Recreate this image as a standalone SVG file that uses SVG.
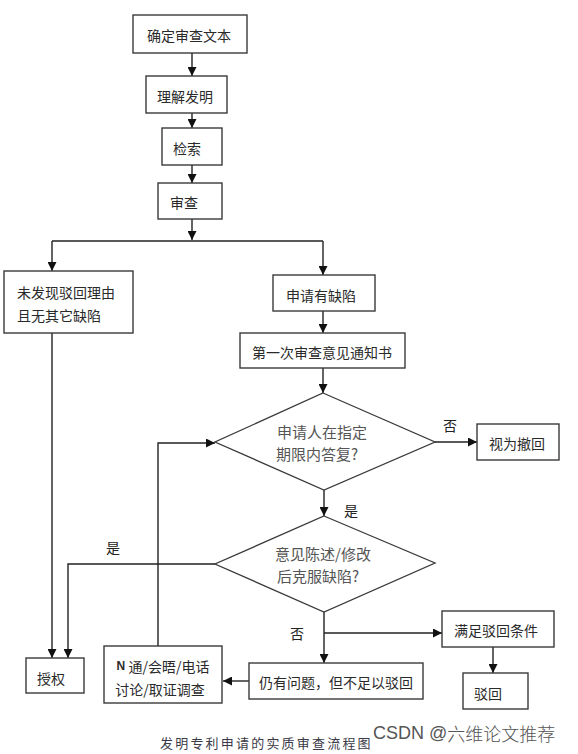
<svg xmlns="http://www.w3.org/2000/svg" width="578" height="754" viewBox="0 0 578 754">
<defs>
<marker id="arr" viewBox="0 0 10 10" refX="10" refY="5" markerWidth="9" markerHeight="9" markerUnits="userSpaceOnUse" orient="auto">
<path d="M0,0 L10,5 L0,10 z" fill="#111"/>
</marker>
<style>
.box{fill:#fff;stroke:#3a3a3a;stroke-width:1.4}
.dia{fill:#fff;stroke:#3a3a3a;stroke-width:1.3}
.t{font-family:"Noto Sans CJK SC","Noto Sans",sans-serif;font-size:14px;fill:#2a2a2a;text-anchor:middle;dominant-baseline:central}
.td{font-family:"Noto Sans CJK SC","Noto Sans",sans-serif;font-size:15px;fill:#555;text-anchor:middle;dominant-baseline:central}
.lab{font-family:"Noto Sans CJK SC",sans-serif;font-size:14px;fill:#222;text-anchor:middle;dominant-baseline:central}
.c{fill:none;stroke:#222;stroke-width:1.4}
.ca{fill:none;stroke:#222;stroke-width:1.4;marker-end:url(#arr)}
</style>
</defs>
<rect width="578" height="754" fill="#fff"/>
<g id="connectors">
<path class="ca" d="M192,53 V76"/>
<path class="ca" d="M192,113 V128"/>
<path class="ca" d="M192,165 V183"/>
<path class="ca" d="M192,219 V240"/>
<path class="c" d="M52,241 H323"/>
<path class="ca" d="M52,241 V271"/>
<path class="ca" d="M323,241 V275"/>
<path class="ca" d="M323,311 V333"/>
<path class="ca" d="M323,368 V393"/>
<path class="ca" d="M435,442 H477"/>
<path class="ca" d="M324,490 V516"/>
<path class="ca" d="M215,564 H68 V658"/>
<path class="ca" d="M52,333 V658"/>
<path class="ca" d="M158,646 V443 H215"/>
<path class="ca" d="M324,612 V663"/>
<path class="ca" d="M324,633 H442"/>
<path class="ca" d="M493,647 V673"/>
<path class="ca" d="M249,681 H223"/>
</g>
<g id="n1"><rect class="box" x="133" y="15" width="114" height="38"/><text class="t" x="189" y="35">确定审查文本</text></g>
<g id="n2"><rect class="box" x="146" y="76" width="81" height="37"/><text class="t" x="185" y="96">理解发明</text></g>
<g id="n3"><rect class="box" x="162" y="128" width="60" height="37"/><text class="t" x="187" y="148">检索</text></g>
<g id="n4"><rect class="box" x="158" y="183" width="64" height="36"/><text class="t" x="184" y="202">审查</text></g>
<g id="n5"><rect class="box" x="4" y="271" width="129" height="62"/><text class="t" x="66" y="292">未发现驳回理由</text><text class="t" x="59" y="315" >且无其它缺陷</text></g>
<g id="n6"><rect class="box" x="273" y="275" width="102" height="36"/><text class="t" x="321" y="295">申请有缺陷</text></g>
<g id="n7"><rect class="box" x="240" y="333" width="165" height="35"/><text class="t" x="322" y="352">第一次审查意见通知书</text></g>
<g id="d1"><polygon class="dia" points="323,393 435,442 324,490 215,442"/><text class="td" x="322" y="431">申请人在指定</text><text class="td" x="317" y="453">期限内答复?</text></g>
<g id="n8"><rect class="box" x="477" y="424" width="82" height="36"/><text class="t" x="517" y="443">视为撤回</text></g>
<g id="d2"><polygon class="dia" points="324,516 435,563 324,612 215,564"/><text class="td" x="323" y="553">意见陈述/修改</text><text class="td" x="318" y="575">后克服缺陷?</text></g>
<g id="n9"><rect class="box" x="26" y="658" width="58" height="35"/><text class="t" x="51" y="678">授权</text></g>
<g id="n10"><rect class="box" x="104" y="646" width="118" height="57"/><text class="t" x="163" y="666"><tspan font-family="Liberation Sans,sans-serif" font-weight="bold" font-size="12">N</tspan> 通/会晤/电话</text><text class="t" x="160" y="689">讨论/取证调查</text></g>
<g id="n11"><rect class="box" x="249" y="663" width="174" height="36"/><text class="t" x="336" y="682">仍有问题，但不足以驳回</text></g>
<g id="n12"><rect class="box" x="442" y="611" width="112" height="36"/><text class="t" x="496" y="630">满足驳回条件</text></g>
<g id="n13"><rect class="box" x="463" y="673" width="65" height="36"/><text class="t" x="488" y="693">驳回</text></g>
<g id="labels">
<text class="lab" x="450" y="425">否</text>
<text class="lab" x="351" y="510">是</text>
<text class="lab" x="113" y="547">是</text>
<text class="lab" x="297" y="633">否</text>
</g>
<text x="160" y="742" font-family="Noto Sans CJK SC,sans-serif" font-size="13" fill="#3a3a48" letter-spacing="2.2" dominant-baseline="central">发明专利申请的实质审查流程图</text>
<text x="373" y="733" font-family="Liberation Sans,Noto Sans CJK SC,sans-serif" font-size="18" fill="#555" dominant-baseline="central">CSDN @<tspan font-family="Noto Sans CJK SC,sans-serif" font-weight="300">六维论文推荐</tspan></text>
</svg>
